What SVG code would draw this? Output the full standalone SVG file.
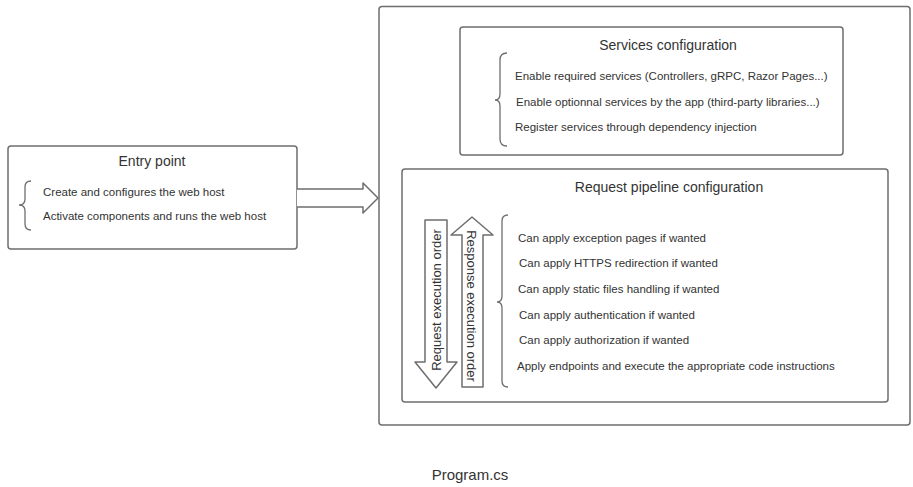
<svg xmlns="http://www.w3.org/2000/svg" width="913" height="487" viewBox="0 0 913 487">
<style>
.box{fill:#fff;stroke:#6e6e6e;stroke-width:1.5}
.shape{fill:#fff;stroke:#6e6e6e;stroke-width:1.5;stroke-linejoin:round}
.brace{fill:none;stroke:#6e6e6e;stroke-width:1.3}
.t{font-family:"Liberation Sans",Arial,sans-serif;fill:#333}
.title{font-size:14px;text-anchor:middle}
.item{font-size:11.5px}
.vert{font-size:13px;text-anchor:middle}
</style>
<rect width="913" height="487" fill="#fff"/>
<g id="program">
<rect class="box" x="379" y="6.5" width="531" height="418.5" rx="3"/>
<text class="t" x="470" y="480" font-size="15" text-anchor="middle">Program.cs</text>
</g>
<g id="entry-point">
<rect class="box" x="8" y="146" width="289" height="103" rx="3"/>
<text class="t title" x="152" y="166">Entry point</text>
<path class="brace" d="M31,181 Q25,181 25,187 L25,199 Q25,205 19,205 Q25,205 25,211 L25,224 Q25,230 31,230"/>
<text class="t item" x="43" y="196">Create and configures the web host</text>
<text class="t item" x="43" y="220">Activate components and runs the web host</text>
</g>
<g id="services-configuration">
<rect class="box" x="460" y="27" width="383" height="128" rx="3"/>
<text class="t title" x="668" y="50">Services configuration</text>
<path class="brace" d="M507,53 Q500,53 500,60 L500,94 Q500,100 495,100 Q500,100 500,106 L500,139 Q500,146 507,146"/>
<text class="t item" x="515" y="80">Enable required services (Controllers, gRPC, Razor Pages...)</text>
<text class="t item" x="516" y="106">Enable optionnal services by the app (third-party libraries...)</text>
<text class="t item" x="515" y="131">Register services through dependency injection</text>
</g>
<g id="request-pipeline">
<rect class="box" x="402" y="169" width="486" height="233" rx="3"/>
<text class="t title" x="669" y="192">Request pipeline configuration</text>
<path class="brace" d="M508,215 Q502,215 502,221 L502,296 Q502,302 497,302 Q502,302 502,308 L502,381 Q502,387 508,387"/>
<text class="t item" x="518" y="242">Can apply exception pages if wanted</text>
<text class="t item" x="519" y="267">Can apply HTTPS redirection if wanted</text>
<text class="t item" x="518" y="293">Can apply static files handling if wanted</text>
<text class="t item" x="519" y="319">Can apply authentication if wanted</text>
<text class="t item" x="519" y="344">Can apply authorization if wanted</text>
<text class="t item" x="517" y="370">Apply endpoints and execute the appropriate code instructions</text>
</g>
<g id="request-order">
<path class="shape" d="M425,220 L447,220 L447,362 L457,362 L436,388 L415,362 L425,362 Z"/>
<text class="t vert" transform="translate(441,300) rotate(-90)">Request execution order</text>
</g>
<g id="response-order">
<path class="shape" d="M462,387 L483,387 L483,235 L493,235 L472,217 L451,235 L462,235 Z"/>
<text class="t vert" transform="translate(467,306) rotate(90)">Response execution order</text>
</g>
<g id="connectors">
<path class="shape" d="M297,189 L363,189 L363,183 L378,198 L363,213 L363,207 L297,207"/>
</g>
</svg>
